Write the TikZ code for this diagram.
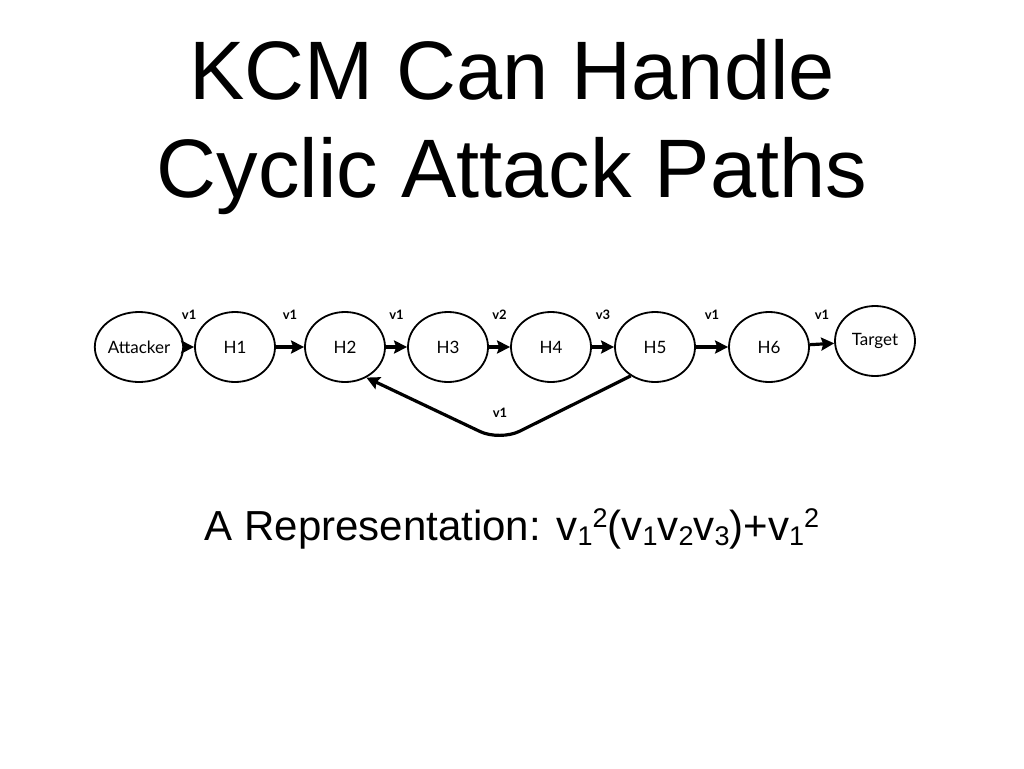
\documentclass[tikz,border=0pt]{standalone}
\usepackage{fontspec}
\setmainfont{Liberation Sans}
\newfontfamily\gillfont{Lato}
\usetikzlibrary{arrows.meta,shapes.geometric}
\newcommand\lo[1]{\raisebox{-5pt}{\fontsize{27}{27}\selectfont #1}}
\newcommand\hi[1]{\raisebox{13pt}{\fontsize{27}{27}\selectfont #1}}

\begin{document}
\begin{tikzpicture}[x=1pt,y=-1pt,
    host/.style={ellipse, draw, line width=1.8pt, minimum width=80pt, minimum height=70pt, inner sep=0pt, font=\gillfont\fontsize{17}{19}\selectfont},
    edge/.style={line width=3.2pt, -{Stealth[length=13pt,width=13pt,inset=2pt]}},
    lbl/.style={font=\gillfont\bfseries\fontsize{13}{15}\selectfont, inner sep=0pt}]
    \fill[white] (0,0) rectangle (1024,768);
    \useasboundingbox (0,0) rectangle (1024,768);

    % Title
    \node[anchor=base, font=\fontsize{83}{98}\selectfont] (title1) at (512,99) {KCM Can Handle};
    \node[anchor=base, font=\fontsize{83}{98}\selectfont] (title2) at (512,197) {Cyclic Attack Paths};

    % Hosts
    \node[host, minimum width=82pt] (att) at (139,347) {Attacker};
    \node[host] (h1) at (235,347) {H1};
    \node[host] (h2) at (345,347) {H2};
    \node[host] (h3) at (448,347) {H3};
    \node[host] (h4) at (551,347) {H4};
    \node[host] (h5) at (655,347) {H5};
    \node[host] (h6) at (769,347) {H6};
    \node[host] (target) at (875,341) {Target};

    % Attack steps
    \foreach \a/\b/\v in {att/h1/v1, h1/h2/v1, h2/h3/v1, h3/h4/v2, h4/h5/v3, h5/h6/v1}
        \draw[edge] (\a) -- (\b) node[midway, lbl, above=26pt] {\v};
    \draw[edge] (h6) -- (target) node[midway, lbl, above=23pt] {v1};

    % Back edge
    \coordinate (dip) at (500,441);
    \draw[edge, rounded corners=22pt] (h5.230) -- (dip) -- (h2.305);
    \node[lbl] (backlbl) at (500,413) {v1};

    % Representation
    \node[anchor=base, font=\fontsize{42}{50}\selectfont] (repr) at (512,540)
        {A Representation: v\lo{1}\hi{2}(v\lo{1}v\lo{2}v\lo{3})+v\lo{1}\hi{2}};
\end{tikzpicture}
\end{document}
